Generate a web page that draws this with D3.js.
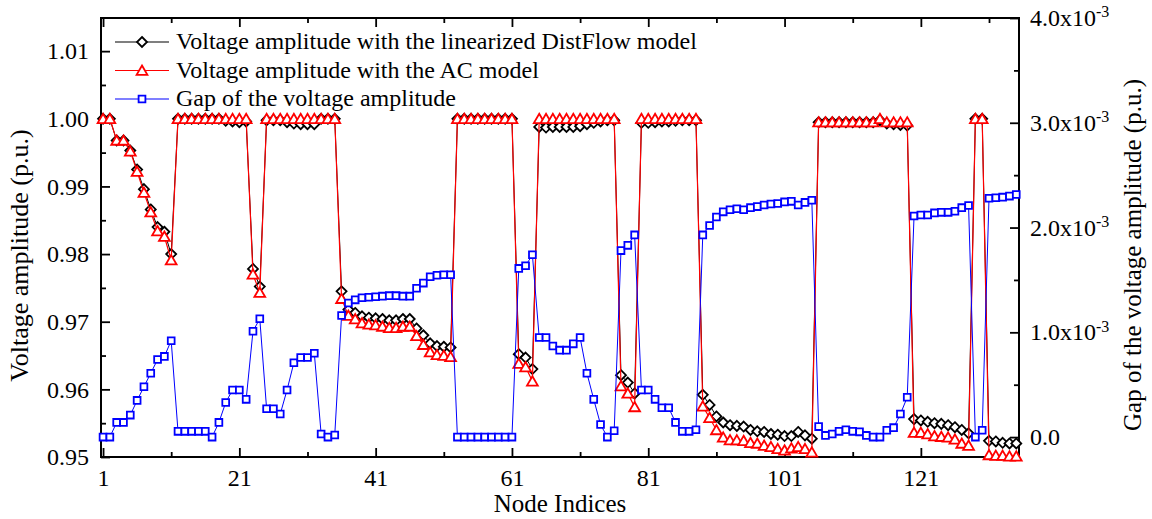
<!DOCTYPE html>
<html>
<head>
<meta charset="utf-8">
<script src="https://cdn.jsdelivr.net/npm/d3@7"></script>
<style>
  body { margin: 0; background: #fff; }
  svg text { font-family: "Liberation Serif", "Times New Roman", serif; fill: #000; }
</style>
</head>
<body>
<div id="chart"></div>
<script>
// Voltage amplitude, linearized DistFlow model (p.u.), nodes 1..135
const vDistFlow = [
  1.0000, 1.0000, 0.9968, 0.9968, 0.9953, 0.9925, 0.9896, 0.9866, 0.9840, 0.9833,
  0.9800, 1.0000, 1.0000, 1.0000, 1.0000, 1.0000, 1.0000, 1.0000, 0.9997, 0.9996,
  0.9995, 0.9996, 0.9778, 0.9752, 0.9998, 0.9998, 0.9998, 0.9995, 0.9993, 0.9992,
  0.9992, 0.9992, 1.0000, 1.0000, 1.0000, 0.9745, 0.9718, 0.9713, 0.9708, 0.9706,
  0.9705, 0.9704, 0.9702, 0.9702, 0.9704, 0.9704, 0.9690, 0.9680, 0.9668, 0.9664,
  0.9663, 0.9662, 1.0000, 1.0000, 1.0000, 1.0000, 1.0000, 1.0000, 1.0000, 1.0000,
  1.0000, 0.9652, 0.9647, 0.9630, 0.9988, 0.9987, 0.9988, 0.9988, 0.9988, 0.9988,
  0.9989, 0.9992, 0.9994, 0.9996, 0.9998, 0.9998, 0.9621, 0.9610, 0.9594, 0.9994,
  0.9994, 0.9995, 0.9996, 0.9996, 0.9997, 0.9998, 0.9998, 0.9998, 0.9592, 0.9577,
  0.9560, 0.9551, 0.9547, 0.9546, 0.9545, 0.9540, 0.9538, 0.9537, 0.9534, 0.9533,
  0.9531, 0.9531, 0.9537, 0.9532, 0.9527, 0.9995, 0.9995, 0.9995, 0.9995, 0.9995,
  0.9995, 0.9995, 0.9995, 0.9995, 0.9998, 0.9993, 0.9992, 0.9991, 0.9990, 0.9556,
  0.9554, 0.9552, 0.9550, 0.9549, 0.9547, 0.9544, 0.9540, 0.9535, 1.0000, 1.0000,
  0.9524, 0.9523, 0.9521, 0.9520, 0.9520
];

// Voltage amplitude, AC model (p.u.)
const vAC = [
  1.0000, 1.0000, 0.9968, 0.9968, 0.9952, 0.9922, 0.9891, 0.9862, 0.9834, 0.9826,
  0.9791, 1.0000, 1.0000, 1.0000, 1.0000, 1.0000, 1.0000, 1.0000, 1.0000, 1.0000,
  1.0000, 1.0000, 0.9770, 0.9743, 1.0000, 1.0000, 1.0000, 1.0000, 1.0000, 1.0000,
  1.0000, 1.0000, 1.0000, 1.0000, 1.0000, 0.9734, 0.9709, 0.9704, 0.9698, 0.9696,
  0.9695, 0.9693, 0.9691, 0.9691, 0.9693, 0.9693, 0.9679, 0.9666, 0.9655, 0.9651,
  0.9650, 0.9648, 1.0000, 1.0000, 1.0000, 1.0000, 1.0000, 1.0000, 1.0000, 1.0000,
  1.0000, 0.9638, 0.9633, 0.9612, 1.0000, 1.0000, 1.0000, 1.0000, 1.0000, 1.0000,
  1.0000, 1.0000, 1.0000, 1.0000, 1.0000, 1.0000, 0.9605, 0.9594, 0.9574, 1.0000,
  1.0000, 1.0000, 1.0000, 1.0000, 1.0000, 1.0000, 1.0000, 1.0000, 0.9575, 0.9558,
  0.9540, 0.9529, 0.9525, 0.9525, 0.9524, 0.9521, 0.9520, 0.9517, 0.9515, 0.9512,
  0.9510, 0.9513, 0.9515, 0.9512, 0.9507, 0.9995, 0.9995, 0.9995, 0.9995, 0.9995,
  0.9995, 0.9995, 0.9995, 0.9995, 1.0000, 0.9995, 0.9995, 0.9995, 0.9995, 0.9536,
  0.9536, 0.9534, 0.9531, 0.9530, 0.9529, 0.9526, 0.9520, 0.9517, 1.0000, 1.0000,
  0.9503, 0.9502, 0.9502, 0.9501, 0.9501
];

// Gap of the voltage amplitude (x10^-3 p.u.)
const vGap = [
  0.00, 0.00, 0.14, 0.14, 0.21, 0.35, 0.48, 0.61, 0.74, 0.77,
  0.92, 0.055, 0.055, 0.055, 0.055, 0.055, 0.00, 0.14, 0.33, 0.45,
  0.45, 0.36, 1.01, 1.13, 0.27, 0.27, 0.22, 0.45, 0.71, 0.76,
  0.76, 0.80, 0.03, 0.00, 0.02, 1.16, 1.28, 1.31, 1.33, 1.335,
  1.34, 1.345, 1.35, 1.35, 1.345, 1.345, 1.42, 1.47, 1.53, 1.545,
  1.55, 1.55, 0.00, 0.00, 0.00, 0.00, 0.00, 0.00, 0.00, 0.00,
  0.00, 1.61, 1.635, 1.74, 0.95, 0.95, 0.87, 0.83, 0.83, 0.89,
  0.95, 0.61, 0.36, 0.12, 0.00, 0.06, 1.78, 1.83, 1.93, 0.45,
  0.45, 0.36, 0.28, 0.28, 0.14, 0.055, 0.055, 0.07, 1.93, 2.02,
  2.10, 2.15, 2.17, 2.18, 2.17, 2.19, 2.20, 2.215, 2.225, 2.23,
  2.245, 2.25, 2.215, 2.24, 2.26, 0.10, 0.016, 0.03, 0.055, 0.07,
  0.055, 0.05, 0.016, 0.00, 0.00, 0.065, 0.09, 0.22, 0.38, 2.11,
  2.12, 2.12, 2.14, 2.145, 2.145, 2.155, 2.19, 2.21, 0.00, 0.065,
  2.28, 2.285, 2.29, 2.30, 2.315
];

const xMajorTicks = [1, 21, 41, 61, 81, 101, 121];
const xMinorTicks = [11, 31, 51, 71, 91, 111, 131];
const yLeftMajor = [0.95, 0.96, 0.97, 0.98, 0.99, 1.00, 1.01];
const yLeftMinor = [0.955, 0.965, 0.975, 0.985, 0.995, 1.005];
const yRightMajor = [0, 1, 2, 3, 4];          // x10^-3
const yRightMinor = [0.5, 1.5, 2.5, 3.5];

const seriesNames = [
  'Voltage amplitude with the linearized DistFlow model',
  'Voltage amplitude with the AC model',
  'Gap of the voltage amplitude'
];

const W = 1152, H = 519;
const margin = { top: 18, right: 133, bottom: 62, left: 101 };
const width = W - margin.left - margin.right;
const height = H - margin.top - margin.bottom;

const svg = d3.select('#chart').append('svg')
  .attr('width', W)
  .attr('height', H);

const g = svg.append('g')
  .attr('transform', `translate(${margin.left},${margin.top})`);

const x = d3.scaleLinear().domain([0.7, 135.4]).range([0, width]);
const yL = d3.scaleLinear().domain([0.95, 1.0149]).range([height, 0]);
const yR = d3.scaleLinear().domain([-0.19, 4.0]).range([height, 0]);

// marker shapes (centered on the data point)
const diamondPath = 'M0,-5L5,0L0,5L-5,0Z';
const trianglePath = 'M0,-5L5.4,4.3L-5.4,4.3Z';
const squarePath = 'M-3.4,-3.4H3.4V3.4H-3.4Z';

const series = [
  { name: seriesNames[0], values: vDistFlow, y: yL, color: '#000000', marker: diamondPath, lw: 1 },
  { name: seriesNames[1], values: vAC, y: yL, color: '#ff0000', marker: trianglePath, lw: 1.2 },
  { name: seriesNames[2], values: vGap, y: yR, color: '#0000ff', marker: squarePath, lw: 1 }
];

const fontTick = 24;

// inward ticks, no domain line (the frame is drawn separately)
const styleAxis = (sel) => {
  sel.select('.domain').remove();
  sel.selectAll('line').attr('stroke', '#000').attr('stroke-width', 1.8);
};

// Bottom axis
g.append('g')
  .attr('transform', `translate(0,${height})`)
  .call(d3.axisBottom(x).tickValues(xMajorTicks).tickSize(-9).tickPadding(12))
  .call(styleAxis)
  .selectAll('text')
  .attr('font-size', fontTick);

g.append('g')
  .attr('transform', `translate(0,${height})`)
  .call(d3.axisBottom(x).tickValues(xMinorTicks).tickSize(-5).tickFormat(''))
  .call(styleAxis);

// Top axis (ticks only)
g.append('g')
  .call(d3.axisTop(x).tickValues(xMajorTicks).tickSize(-9).tickFormat(''))
  .call(styleAxis);
g.append('g')
  .call(d3.axisTop(x).tickValues(xMinorTicks).tickSize(-5).tickFormat(''))
  .call(styleAxis);

// Left axis
g.append('g')
  .call(d3.axisLeft(yL).tickValues(yLeftMajor).tickSize(-9).tickPadding(12).tickFormat(d3.format('.2f')))
  .call(styleAxis)
  .selectAll('text')
  .attr('font-size', fontTick);
g.append('g')
  .call(d3.axisLeft(yL).tickValues(yLeftMinor).tickSize(-5).tickFormat(''))
  .call(styleAxis);

// Right axis
const rightAxis = g.append('g')
  .attr('transform', `translate(${width},0)`)
  .call(d3.axisRight(yR).tickValues(yRightMajor).tickSize(-9).tickFormat(''))
  .call(styleAxis);
g.append('g')
  .attr('transform', `translate(${width},0)`)
  .call(d3.axisRight(yR).tickValues(yRightMinor).tickSize(-5).tickFormat(''))
  .call(styleAxis);

// right tick labels with superscript exponent
yRightMajor.forEach(v => {
  const t = rightAxis.append('text')
    .attr('x', 11)
    .attr('y', yR(v))
    .attr('dy', '0.34em')
    .attr('font-size', fontTick)
    .attr('text-anchor', 'start');
  if (v === 0) {
    t.text('0.0');
  } else {
    t.append('tspan').text(v.toFixed(1) + 'x10');
    t.append('tspan').attr('dy', '-0.55em').attr('font-size', 16).text('-3');
  }
});

// frame
g.append('rect')
  .attr('width', width)
  .attr('height', height)
  .attr('fill', 'none')
  .attr('stroke', '#000')
  .attr('stroke-width', 2);

// series lines and markers
const plot = g.append('g');
series.forEach(s => {
  const line = d3.line()
    .x((d, i) => x(i + 1))
    .y(d => s.y(d));
  plot.append('path')
    .datum(s.values)
    .attr('d', line)
    .attr('fill', 'none')
    .attr('stroke', s.color)
    .attr('stroke-width', s.lw);
  plot.selectAll(null)
    .data(s.values)
    .enter().append('path')
    .attr('d', s.marker)
    .attr('transform', (d, i) => `translate(${x(i + 1)},${s.y(d)})`)
    .attr('fill', '#fff')
    .attr('stroke', s.color)
    .attr('stroke-width', 1.8);
});

// legend
const legend = g.append('g').attr('transform', 'translate(14,24)');
series.forEach((s, i) => {
  const row = legend.append('g').attr('transform', `translate(0,${i * 28.5})`);
  row.append('line')
    .attr('x1', 0).attr('x2', 54)
    .attr('stroke', s.color)
    .attr('stroke-width', 1.2);
  row.append('path')
    .attr('d', s.marker)
    .attr('transform', 'translate(27,0)')
    .attr('fill', '#fff')
    .attr('stroke', s.color)
    .attr('stroke-width', 1.8);
  row.append('text')
    .attr('x', 61)
    .attr('y', 0)
    .attr('dy', '0.3em')
    .attr('font-size', 24)
    .text(s.name);
});

// axis titles
svg.append('text')
  .attr('transform', `translate(28,${margin.top + height / 2 + 18}) rotate(-90)`)
  .attr('text-anchor', 'middle')
  .attr('font-size', 26)
  .text('Voltage amplitude (p.u.)');

svg.append('text')
  .attr('transform', `translate(1141,255) rotate(-90)`)
  .attr('text-anchor', 'middle')
  .attr('font-size', 25)
  .text('Gap of the voltage amplitude (p.u.)');

svg.append('text')
  .attr('x', 560)
  .attr('y', 512)
  .attr('text-anchor', 'middle')
  .attr('font-size', 25)
  .text('Node Indices');
</script>
</body>
</html>
